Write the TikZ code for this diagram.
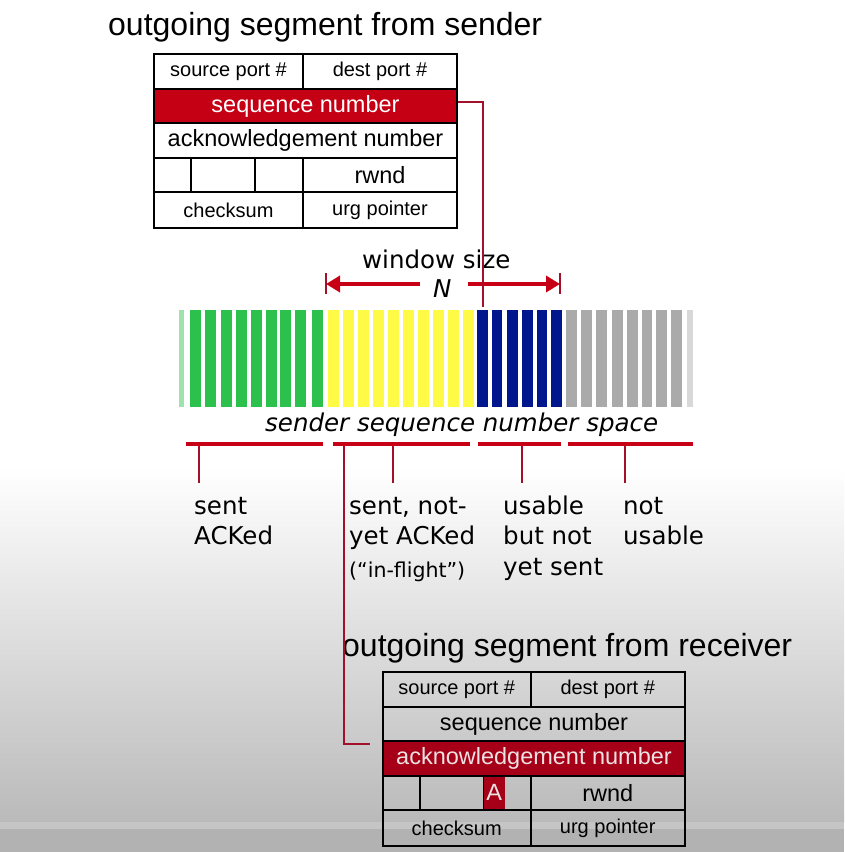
\documentclass[tikz,border=0pt]{standalone}
\usepackage{fontspec}
\setmainfont{Liberation Sans}
\newfontfamily\vfont{DejaVu Sans}
\usetikzlibrary{arrows.meta,calc}
\definecolor{seqred}{RGB}{198,0,20}
\definecolor{ackred}{RGB}{165,0,24}
\definecolor{ackfg}{RGB}{236,226,226}
\definecolor{linered}{RGB}{162,16,42}
\definecolor{brred}{RGB}{200,0,22}
\definecolor{bargreen}{RGB}{44,192,76}
\definecolor{baryellow}{RGB}{255,250,70}
\definecolor{barblue}{RGB}{0,22,140}
\definecolor{bargray}{RGB}{170,170,170}
\definecolor{bgbot}{RGB}{186,186,186}
\definecolor{bgband}{RGB}{197,197,197}
\definecolor{bglow}{RGB}{178,178,178}
\newcommand{\stacklines}[1]{\begin{tabular}[t]{@{}l@{}}#1\end{tabular}}
\begin{document}
\begin{tikzpicture}[x=1pt,y=-1pt,
  cell/.style={draw=black, line width=2pt, inner sep=0pt, anchor=north west,
    font=\fontsize{20}{24}\selectfont},
  bigcell/.style={cell, font=\fontsize{23.5}{28}\selectfont},
  title/.style={anchor=base west, inner sep=0pt, font=\fontsize{32}{38}\selectfont},
  vlabel/.style={anchor=base west, inner sep=0pt,
    font=\vfont\fontsize{24.5}{30.5}\selectfont},
  smalllabel/.style={anchor=base west, inner sep=0pt,
    font=\vfont\fontsize{20.5}{24}\selectfont},
  thinred/.style={draw=linered, line width=2pt},
  bracket/.style={draw=brred, line width=4.5pt},
  winarrow/.style={draw=brred, line width=4.5pt, -{Triangle[length=14pt,width=16pt]}},
  wintick/.style={draw=linered, line width=2.2pt}
]
\useasboundingbox (0,0) rectangle (844,852);
% background
\fill[white] (0,0) rectangle (844,467);
\shade[top color=white, bottom color=bgbot] (0,467) rectangle (844,822);
\fill[bgband] (0,822) rectangle (844,829);
\fill[bglow] (0,829) rectangle (844,852);

% ---------- sender segment ----------
\node[title] (t1title) at (108,35) {outgoing segment from sender};
\node[cell, fill=white, minimum width=149pt, minimum height=35pt] (t1src) at (153,53) {source port \#};
\node[cell, fill=white, minimum width=154pt, minimum height=35pt] (t1dst) at (302,53) {dest port \#};
\node[bigcell, fill=seqred, text=white, minimum width=303pt, minimum height=34pt] (t1seq) at (153,88) {sequence number};
\node[bigcell, fill=white, minimum width=303pt, minimum height=34.5pt] (t1ack) at (153,122) {acknowledgement number};
\node[cell, fill=white, minimum width=37pt, minimum height=34.5pt] (t1f1) at (153,156.5) {};
\node[cell, fill=white, minimum width=64pt, minimum height=34.5pt] (t1f2) at (190,156.5) {};
\node[cell, fill=white, minimum width=48pt, minimum height=34.5pt] (t1f3) at (254,156.5) {};
\node[bigcell, fill=white, minimum width=154pt, minimum height=34.5pt] (t1rwnd) at (302,156.5) {rwnd};
\node[cell, fill=white, minimum width=149pt, minimum height=36pt] (t1chk) at (153,191) {checksum};
\node[cell, fill=white, minimum width=154pt, minimum height=36pt] (t1urg) at (302,191) {urg pointer};

% ---------- sequence number space ----------
\foreach \x in {190,205,221,236,251,266,280,295,312}
  \fill[bargreen] (\x,310) rectangle ++(10.5,97);
\fill[bargreen, opacity=0.45] (179,310) rectangle ++(5,97);
\foreach \x in {328,343,358,373,388,403,418,433,448,463}
  \fill[baryellow] (\x,310) rectangle ++(10.5,97);
\foreach \x in {477,491.5,507,522,536.5,551}
  \fill[barblue] (\x,310) rectangle ++(10.5,97);
\foreach \x in {566,581,596,612,627,641.5,656,671}
  \fill[bargray] (\x,310) rectangle ++(10.5,97);
\fill[bargray, opacity=0.45] (687,310) rectangle ++(6,97);

\node[vlabel] (winlbl) at (362,268) {window size};
\node[vlabel, font=\vfont\itshape\fontsize{24.5}{30.5}\selectfont] (nlbl) at (433,297) {N};
\coordinate (wlTop) at (326,273);
\coordinate (wlBot) at (326,294);
\coordinate (wrTop) at (560,273);
\coordinate (wrBot) at (560,294);
\coordinate (wlTip) at (326,284);
\coordinate (wrTip) at (560,284);
\coordinate (wlStart) at (420,284);
\coordinate (wrStart) at (468,284);
\draw[wintick] (wlTop) -- (wlBot);
\draw[wintick] (wrTop) -- (wrBot);
\draw[winarrow] (wlStart) -- (wlTip);
\draw[winarrow] (wrStart) -- (wrTip);

\node[vlabel, font=\vfont\itshape\fontsize{24.5}{30.5}\selectfont] (spacelbl) at (265,431) {sender sequence number space};

% brackets
\coordinate (b1a) at (185.5,444); \coordinate (b1b) at (322.5,444);
\coordinate (b2a) at (332.5,444); \coordinate (b2b) at (469.5,444);
\coordinate (b3a) at (478,444);   \coordinate (b3b) at (561,444);
\coordinate (b4a) at (568,444);   \coordinate (b4b) at (693,444);
\draw[bracket] (b1a) -- (b1b);
\draw[bracket] (b2a) -- (b2b);
\draw[bracket] (b3a) -- (b3b);
\draw[bracket] (b4a) -- (b4b);

\coordinate (k1a) at (198.5,446); \coordinate (k1b) at (198.5,483);
\coordinate (k2a) at (392.5,446); \coordinate (k2b) at (392.5,483);
\coordinate (k3a) at (521.5,446); \coordinate (k3b) at (521.5,483);
\coordinate (k4a) at (625,446);   \coordinate (k4b) at (625,483);
\draw[thinred] (k1a) -- (k1b);
\draw[thinred] (k2a) -- (k2b);
\draw[thinred] (k3a) -- (k3b);
\draw[thinred] (k4a) -- (k4b);

\node[vlabel] (lblacked) at (194,514) {\stacklines{sent\\ACKed}};
\node[vlabel] (lblflight) at (349,514) {\stacklines{sent, not-\\yet ACKed}};
\node[smalllabel] (lblinflight) at (349,577) {(“in-flight”)};
\node[vlabel] (lblusable) at (503,514) {\stacklines{usable\\but not\\yet sent}};
\node[vlabel] (lblnot) at (623,514) {\stacklines{not\\usable}};

% ---------- receiver segment ----------
\node[title] (t2title) at (342,656) {outgoing segment from receiver};
\node[cell, minimum width=147.5pt, minimum height=35pt] (t2src) at (382,671) {source port \#};
\node[cell, minimum width=154.5pt, minimum height=35pt] (t2dst) at (529.5,671) {dest port \#};
\node[bigcell, minimum width=302pt, minimum height=34pt] (t2seq) at (382,706) {sequence number};
\node[bigcell, fill=ackred, text=ackfg, minimum width=302pt, minimum height=34.5pt] (t2ack) at (382,740) {acknowledgement number};
\node[cell, minimum width=37pt, minimum height=34.5pt] (t2f1) at (382,774.5) {};
\node[cell, minimum width=64pt, minimum height=34.5pt] (t2f2) at (419,774.5) {};
\node[cell, minimum width=46.5pt, minimum height=34.5pt] (t2f3) at (483,774.5) {};
\node[bigcell, minimum width=154.5pt, minimum height=34.5pt] (t2rwnd) at (529.5,774.5) {rwnd};
\node[cell, minimum width=147.5pt, minimum height=36pt] (t2chk) at (382,809) {checksum};
\node[cell, minimum width=154.5pt, minimum height=36pt] (t2urg) at (529.5,809) {urg pointer};
\node[bigcell, draw=none, fill=ackred, text=ackfg, minimum width=21.5pt, minimum height=32.5pt] (t2A) at (482.5,775.5) {A};

% ---------- connectors ----------
\coordinate (seqEnd) at (483,307);
\draw[thinred] ([yshift=4pt]t1seq.east) -| (seqEnd);
\coordinate (ackStart) at (343.5,446);
\coordinate (ackEnd) at (370,744);
\draw[thinred] (ackStart) |- (ackEnd);
\end{tikzpicture}
\end{document}
